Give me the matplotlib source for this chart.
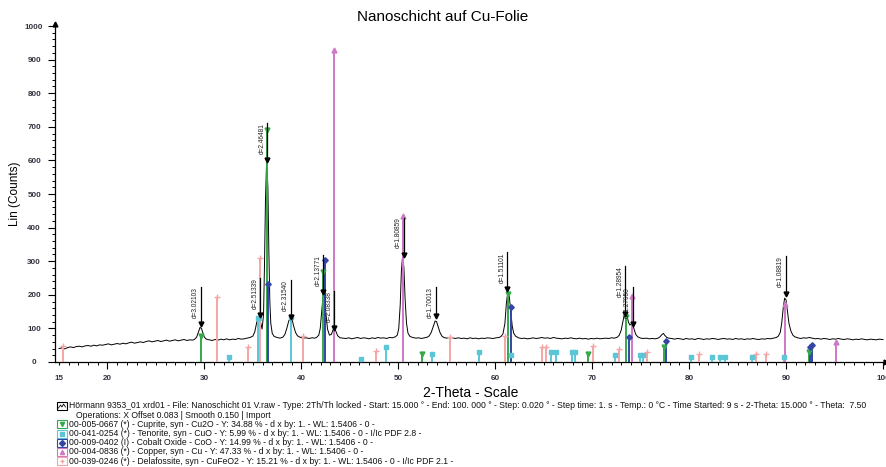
import numpy as np
import matplotlib
matplotlib.use('Agg')
import matplotlib.pyplot as plt
from matplotlib.patches import Rectangle
from matplotlib.lines import Line2D
from matplotlib.ticker import MultipleLocator

plt.rcParams['font.family'] = ['Liberation Sans', 'DejaVu Sans']

pattern_2theta = [
    15.0, 15.3, 15.6, 15.9, 16.2, 16.5, 16.8, 17.1, 17.4, 17.7,
    18.0, 18.3, 18.6, 18.9, 19.2, 19.5, 19.8, 20.1, 20.4, 20.7,
    21.0, 21.3, 21.6, 21.9, 22.2, 22.5, 22.8, 23.1, 23.4, 23.7,
    24.0, 24.3, 24.6, 24.9, 25.2, 25.5, 25.8, 26.1, 26.4, 26.7,
    27.0, 27.3, 27.6, 27.9, 28.2, 28.5,
    28.8, 29.0, 29.2, 29.4, 29.55, 29.7, 29.85, 30.0, 30.2, 30.5,
    30.8, 31.1, 31.4, 31.7, 32.0, 32.3, 32.6, 32.9, 33.2, 33.5, 33.8, 34.1, 34.4, 34.7,
    35.0, 35.2, 35.4, 35.6, 35.8, 35.95, 36.1, 36.2, 36.3, 36.42, 36.55, 36.65, 36.75, 36.85, 37.0, 37.2, 37.5, 37.8,
    38.1, 38.3, 38.5, 38.7, 38.9, 39.05, 39.2, 39.4, 39.6, 39.9, 40.2, 40.5, 40.8, 41.1, 41.4, 41.6,
    41.8, 41.95, 42.1, 42.25, 42.4, 42.55, 42.7, 42.9, 43.1, 43.25, 43.4, 43.55, 43.75, 44.0, 44.3,
    44.6, 44.9, 45.2, 45.5, 45.8, 46.1, 46.4, 46.7, 47.0, 47.3, 47.6, 47.9, 48.2, 48.5, 48.8, 49.1, 49.4, 49.7,
    49.9, 50.05, 50.2, 50.32, 50.45, 50.58, 50.7, 50.85, 51.0, 51.2, 51.5,
    51.8, 52.1, 52.4, 52.7, 53.0,
    53.2, 53.4, 53.6, 53.8, 53.95, 54.1, 54.3, 54.5, 54.7,
    55.0, 55.3, 55.6, 55.9, 56.2, 56.5, 56.8, 57.1, 57.4, 57.7, 58.0, 58.3, 58.6, 58.9, 59.2, 59.5, 59.8, 60.1, 60.4,
    60.6, 60.8, 61.0, 61.15, 61.3, 61.45, 61.6, 61.75, 61.9, 62.1, 62.4,
    62.7, 63.0, 63.3, 63.6, 63.9, 64.2, 64.5, 64.8, 65.1, 65.4, 65.7, 66.0, 66.3, 66.6, 66.9, 67.2, 67.5,
    67.8, 68.1, 68.4, 68.7, 69.0, 69.3, 69.6, 69.9, 70.2, 70.5, 70.8, 71.1, 71.4, 71.7, 72.0, 72.3, 72.6,
    72.8, 73.0, 73.15, 73.3, 73.45, 73.6, 73.75, 73.9, 74.05, 74.2, 74.35, 74.5, 74.7, 75.0,
    75.3, 75.6, 75.9, 76.2, 76.5, 76.8,
    77.0, 77.2, 77.35, 77.5, 77.7, 77.9,
    78.2, 78.5, 78.8, 79.1, 79.4, 79.7, 80.0, 80.3, 80.6, 80.9, 81.2, 81.5, 81.8, 82.1, 82.4, 82.7, 83.0, 83.3, 83.6,
    83.9, 84.2, 84.5, 84.8, 85.1, 85.4, 85.7, 86.0, 86.3, 86.6, 86.9, 87.2, 87.5, 87.8, 88.1, 88.4, 88.7, 89.0,
    89.2, 89.4, 89.55, 89.7, 89.85, 90.0, 90.15, 90.3, 90.5, 90.7, 90.9, 91.2,
    91.5, 91.8, 92.1, 92.4, 92.7, 93.0, 93.3, 93.6, 93.9, 94.2, 94.5, 94.8, 95.1, 95.4, 95.7,
    96.0, 96.3, 96.6, 96.9, 97.2, 97.5, 97.8, 98.1, 98.4, 98.7, 99.0, 99.3, 99.6, 99.9, 100.0,
]
pattern_counts = [
    40, 42, 39, 43, 45, 43, 46, 47, 45, 48,
    49, 47, 50, 48, 51, 50, 52, 54, 51, 53,
    55, 53, 56, 54, 57, 59, 56, 58, 60, 58,
    61, 63, 60, 62, 64, 61, 63, 65, 62, 64,
    66, 63, 65, 67, 64, 66,
    65, 68, 74, 90, 103, 100, 86, 74, 68, 66,
    64, 67, 65, 68, 66, 69, 66, 68, 67, 70, 68, 69, 71, 73,
    77, 90, 118, 134, 118, 98, 140, 290, 480, 600, 520, 330, 180, 115, 85, 76, 73, 71,
    74, 82, 100, 122, 132, 126, 108, 88, 78, 73, 71, 72, 70, 72, 71, 74,
    80, 100, 150, 200, 190, 140, 98, 80, 82, 94, 103, 92, 78, 72, 71,
    70, 72, 69, 71, 73, 70, 72, 71, 69, 72, 70, 73, 71, 72, 70, 73, 72, 75,
    80, 100, 170, 270, 318, 280, 190, 115, 86, 76, 73,
    71, 72, 70, 72, 74,
    78, 88, 105, 122, 120, 106, 88, 77, 73,
    71, 73, 72, 70, 72, 70, 71, 69, 72, 70, 71, 69, 71, 70, 72, 71, 70, 72, 73,
    76, 84, 115, 175, 208, 195, 150, 108, 86, 77, 72,
    70, 71, 69, 70, 72, 70, 71, 73, 71, 72, 70, 73, 71, 70, 69, 71, 70,
    72, 70, 69, 71, 69, 70, 68, 70, 69, 71, 69, 70, 71, 70, 72, 71, 74,
    80, 95, 118, 138, 144, 136, 118, 110, 114, 110, 95, 82, 75, 71,
    70, 71, 69, 70, 69, 71,
    75, 82, 85, 79, 73, 71,
    70, 68, 70, 69, 67, 70, 68, 69, 67, 70, 69, 67, 69, 68, 70, 69, 67, 69, 70,
    68, 69, 67, 70, 68, 69, 67, 69, 68, 70, 68, 67, 69, 68, 70, 69, 71, 73,
    77, 88, 115, 158, 190, 185, 150, 115, 92, 80, 75, 72,
    70, 72, 71, 73, 71, 69, 70, 68, 70, 69, 67, 69, 68, 70, 68,
    67, 69, 68, 66, 68, 67, 69, 67, 66, 68, 67, 66, 68, 67, 67,
]

# reference pattern sticks (position, height)
cuprite_pos = [29.6, 36.42, 42.28, 52.4, 61.35, 69.6, 73.5, 77.4, 92.4]
cuprite_int = [77, 691, 267, 24, 201, 24, 133, 44, 30]
tenorite_pos = [32.5, 35.5, 35.62, 38.95, 46.2, 48.7, 53.5, 58.3, 61.6, 65.8, 66.3,
                67.9, 68.2, 72.4, 74.95, 75.2, 80.2, 82.4, 83.2, 83.75, 86.5, 89.8]
tenorite_int = [15, 130, 130, 133, 10, 45, 24, 30, 20, 30, 30,
                30, 30, 22, 20, 20, 15, 15, 15, 15, 15, 15]
coo_pos = [36.55, 42.45, 61.65, 73.8, 77.6, 92.5, 92.7]
coo_int = [231, 305, 163, 74, 63, 44, 50]
copper_pos = [43.35, 50.45, 74.1, 89.9, 95.15]
copper_int = [930, 436, 196, 172, 60]
delafossite_pos = [15.4, 31.3, 34.5, 35.7, 40.2, 47.7, 55.3, 61.05, 64.8, 65.2,
                   70.1, 72.8, 75.7, 81.0, 86.9, 87.9]
delafossite_int = [48, 193, 45, 311, 77, 33, 74, 78, 45, 45,
                   48, 39, 30, 25, 25, 25]

# d-value labels
d_labels = ['d=3.02103', 'd=2.51339', 'd=2.46481', 'd=2.31540', 'd=2.13771', 'd=2.08338',
            'd=1.80859', 'd=1.70013', 'd=1.51101', 'd=1.28954', 'd=1.27950', 'd=1.08819']
d_pos = [29.6, 35.75, 36.45, 38.9, 42.25, 43.4, 50.55, 53.85, 61.25, 73.4, 74.2, 89.95]
d_arrow = [113, 139, 602, 134, 208, 101, 318, 137, 216, 142, 113, 202]
d_top = [222, 249, 712, 243, 318, 211, 430, 222, 326, 286, 222, 315]

x_ticks = [15, 20, 30, 40, 50, 60, 70, 80, 90, 100]
y_ticks = [0, 100, 200, 300, 400, 500, 600, 700, 800, 900, 1000]

legend_lines = [
    'Hörmann 9353_01 xrd01 - File: Nanoschicht 01 V.raw - Type: 2Th/Th locked - Start: 15.000 ° - End: 100. 000 ° - Step: 0.020 ° - Step time: 1. s - Temp.: 0 °C - Time Started: 9 s - 2-Theta: 15.000 ° - Theta:  7.50',
    'Operations: X Offset 0.083 | Smooth 0.150 | Import',
    '00-005-0667 (*) - Cuprite, syn - Cu2O - Y: 34.88 % - d x by: 1. - WL: 1.5406 - 0 -',
    '00-041-0254 (*) - Tenorite, syn - CuO - Y: 5.99 % - d x by: 1. - WL: 1.5406 - 0 - I/Ic PDF 2.8 -',
    '00-009-0402 (I) - Cobalt Oxide - CoO - Y: 14.99 % - d x by: 1. - WL: 1.5406 - 0 -',
    '00-004-0836 (*) - Copper, syn - Cu - Y: 47.33 % - d x by: 1. - WL: 1.5406 - 0 -',
    '00-039-0246 (*) - Delafossite, syn - CuFeO2 - Y: 15.21 % - d x by: 1. - WL: 1.5406 - 0 - I/Ic PDF 2.1 -',
]

W, H = 886, 467
fig = plt.figure(figsize=(W / 100, H / 100), dpi=100)
ax = fig.add_axes([55 / W, (H - 362) / H, (W - 55) / W, (362 - 24) / H])

ax.plot(pattern_2theta, pattern_counts, color='black', lw=0.7, zorder=2)

phases = [
    (cuprite_pos, cuprite_int, '#35a84a', 'v', 3.5),
    (tenorite_pos, tenorite_int, '#5cc6d6', 's', 3.2),
    (coo_pos, coo_int, '#3346a6', 'D', 2.8),
    (copper_pos, copper_int, '#cf78c6', '^', 3.5),
    (delafossite_pos, delafossite_int, '#f4a6a6', '+', 4),
]
for pos, ints, col, mk, ms in phases:
    ax.vlines(pos, 0, ints, color=col, lw=1.4, zorder=3)
    ax.plot(pos, ints, ls='none', marker=mk, color=col, ms=ms, mew=1, zorder=4)

for lab, x, ya, yt in zip(d_labels, d_pos, d_arrow, d_top):
    ax.plot([x, x], [ya, yt], color='black', lw=0.9, zorder=5)
    ax.plot([x], [ya], marker='v', color='black', ms=3.5, zorder=6)
    ax.annotate(lab, (x, yt), xytext=(-1.2, 0), textcoords='offset points',
                rotation=90, ha='right', va='top', fontsize=4.7, color='#222222', zorder=6)

ax.set_xlim(14.59, 100.31)
ax.set_ylim(0, 1006)
ax.spines['top'].set_visible(False)
ax.spines['right'].set_visible(False)
ax.spines['left'].set_linewidth(0.9)
ax.spines['bottom'].set_linewidth(0.9)

ax.set_xticks(x_ticks)
ax.set_xticklabels([str(t) for t in x_ticks])
ax.xaxis.set_minor_locator(MultipleLocator(1))
ax.set_yticks(y_ticks)
ax.set_yticklabels([str(t) for t in y_ticks])
ax.yaxis.set_minor_locator(MultipleLocator(20))
ax.tick_params(axis='x', which='major', length=5, width=0.8, pad=4, labelsize=5.8,
               labelcolor='#333340')
ax.tick_params(axis='x', which='minor', length=2.5, width=0.7)
ax.tick_params(axis='y', which='major', length=5, width=0.8, pad=10, labelsize=5.8,
               labelcolor='#333340')
ax.tick_params(axis='y', which='minor', length=2.5, width=0.7)
for lbl in ax.get_yticklabels():
    lbl.set_ha('center')
    lbl.set_fontweight('bold')
for lbl in ax.get_xticklabels():
    lbl.set_fontweight('bold')
ax.xaxis.get_major_ticks()[0].tick1line.set_markersize(2.5)

# axis arrows
ax.plot([0], [1], marker='^', color='black', ms=3.5, transform=ax.transAxes, clip_on=False)
ax.plot([1], [0], marker='>', color='black', ms=3.5, transform=ax.transAxes, clip_on=False)

fig.text(443 / W, 1 - 17 / H, 'Nanoschicht auf Cu-Folie', ha='center', va='center', fontsize=11)
fig.text(471 / W, 1 - 393 / H, '2-Theta - Scale', ha='center', va='center', fontsize=10)
fig.text(15 / W, 1 - 194 / H, 'Lin (Counts)', ha='center', va='center', rotation=90, fontsize=8.5)

# legend block
row_y = [406, 415.2, 424.4, 433.6, 442.8, 452, 461.2]
box_style = [('black', None), None, ('#35a84a', 'v'), ('#5cc6d6', 's'), ('#3346a6', 'D'),
             ('#cf78c6', '^'), ('#f4a6a6', '+')]
for i, (txt, yy) in enumerate(zip(legend_lines, row_y)):
    xt = 76 if i == 1 else 69
    fig.text(xt / W, 1 - yy / H, txt, ha='left', va='center', fontsize=6.2, color='#111111')
    st = box_style[i]
    if st is None:
        continue
    col, mk = st
    fig.add_artist(Rectangle((57 / W, 1 - (yy + 4) / H), 10 / W, 8 / H, transform=fig.transFigure,
                             fill=False, edgecolor=col, lw=0.8))
    if mk is None:
        fig.add_artist(Line2D([58.5 / W, 60.5 / W, 62 / W, 63.5 / W, 65.5 / W],
                              [1 - (yy + 2) / H, 1 - (yy - 1) / H, 1 - (yy + 1) / H,
                               1 - (yy - 2) / H, 1 - (yy + 1) / H],
                              transform=fig.transFigure, color='black', lw=0.6))
    else:
        fig.add_artist(Line2D([62 / W], [1 - yy / H], marker=mk, color=col, ms=3,
                              transform=fig.transFigure))

fig.savefig('out.png', dpi=100)
